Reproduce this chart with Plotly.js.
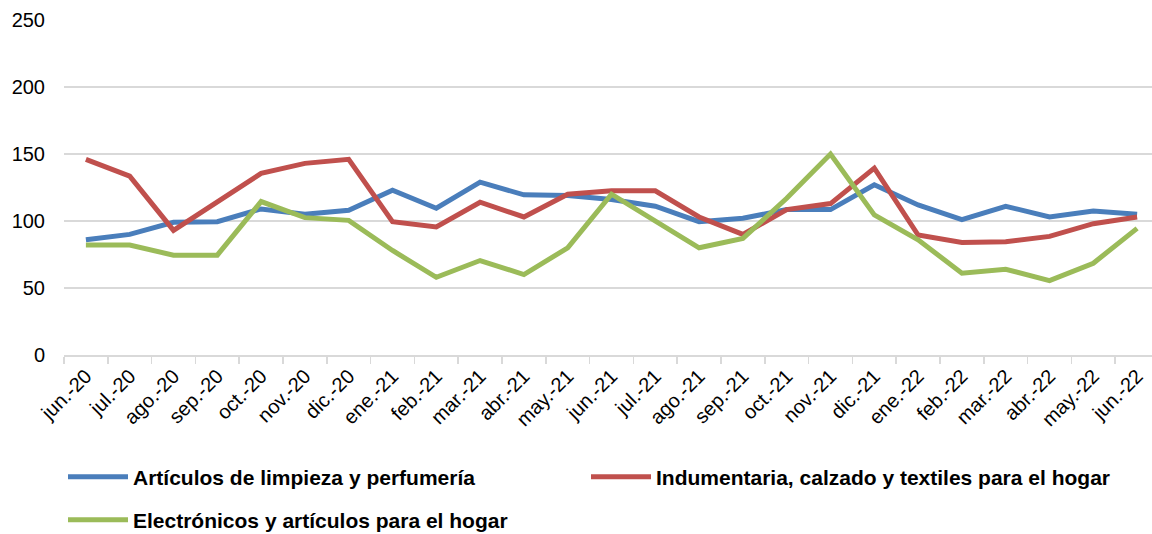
<!DOCTYPE html>
<html>
<head>
<meta charset="utf-8">
<script src="https://cdn.plot.ly/plotly-3.0.1.min.js"></script>
<style>html,body{margin:0;padding:0;background:#fff;}#chart{width:1152px;height:534px;}</style>
</head>
<body>
<div id="chart"></div>
<script>
const months = ["jun.-20","jul.-20","ago.-20","sep.-20","oct.-20","nov.-20","dic.-20","ene.-21","feb.-21","mar.-21","abr.-21","may.-21","jun.-21","jul.-21","ago.-21","sep.-21","oct.-21","nov.-21","dic.-21","ene.-22","feb.-22","mar.-22","abr.-22","may.-22","jun.-22"];
const limpieza = [86, 90, 99, 99.5, 109, 105, 108, 123, 109.5, 129, 119.5, 119, 116, 111, 99.5, 102, 108.5, 108.5, 127, 112, 101, 111, 103, 107.5, 105];
const indumentaria = [146, 133.5, 93, 114.5, 135.5, 143, 146, 99.5, 95.5, 114, 103, 120, 122.5, 122.5, 103, 90, 108.5, 113, 139.5, 89.5, 84, 84.5, 88.5, 98, 103];
const electronicos = [82, 82, 74.5, 74.5, 114.5, 102.5, 100.5, 78, 58, 70.5, 60, 80, 120, 100, 80, 87, 117, 150, 104.5, 86, 61, 64, 55.5, 68.5, 94.5];
const seriesNames = ["Artículos de limpieza y perfumería","Indumentaria, calzado y textiles para el hogar","Electrónicos y artículos para el hogar"];
const yTicks = [0, 50, 100, 150, 200, 250];

const colors = ["#4A7EBB","#C0504D","#9BBB59"];
const legendIds = ["legend","legend3","legend2"];
const data = [limpieza, indumentaria, electronicos].map((vals,i)=>({
  type:"scatter", mode:"lines", x: months, y: vals, name: seriesNames[i],
  line:{color:colors[i], width:5},
  legend: legendIds[i]
}));

const legendFont = {family:"Liberation Sans, Arial, sans-serif", size:21, color:"#000", weight:"bold"};
function leg(xpx, ypx){
  return {orientation:"h", xref:"container", yref:"container", x:xpx/1152, y:1-ypx/534,
    xanchor:"left", yanchor:"middle", font:legendFont, itemwidth:60, bgcolor:"rgba(0,0,0,0)", borderwidth:0};
}
const layout = {
  width:1152, height:534,
  margin:{l:64, r:0, t:20, b:179},
  paper_bgcolor:"#fff", plot_bgcolor:"#fff",
  font:{family:"Liberation Sans, Arial, sans-serif", color:"#000"},
  showlegend:true,
  xaxis:{
    type:"category", range:[-0.5, 24.34], tickangle:-45,
    tickson:"boundaries", ticks:"outside", ticklen:7, tickcolor:"#d9d9d9", tickwidth:1.5,
    showline:true, linecolor:"#d9d9d9", linewidth:1.5, showgrid:false,
    tickfont:{size:20, color:"#000"}
  },
  yaxis:{
    range:[0,250], tickvals:yTicks, ticktext:yTicks.map(String),
    showgrid:true, gridcolor:"#d9d9d9", gridwidth:1.5, zeroline:false,
    tickfont:{size:20, color:"#000"}, ticklabelstandoff:18
  },
  legend: leg(63, 477),
  legend3: leg(586, 477),
  legend2: leg(63, 520)
};
Plotly.newPlot("chart", data, layout, {displayModeBar:false, staticPlot:true});
</script>
</body>
</html>
